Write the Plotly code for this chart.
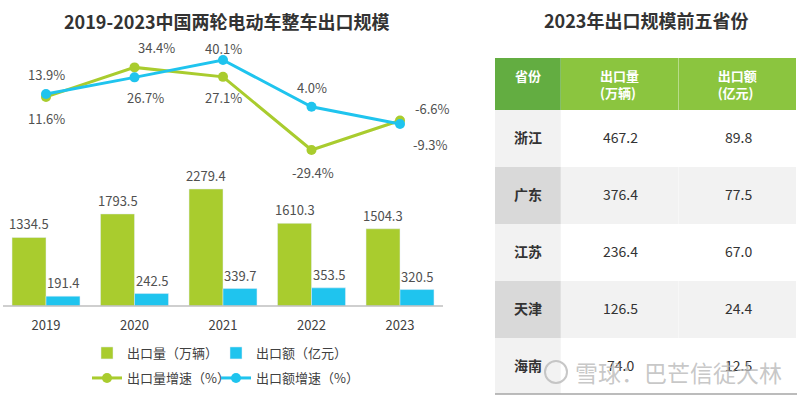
import plotly.graph_objects as go

# ---------------- data ----------------
years = ["2019", "2020", "2021", "2022", "2023"]
export_volume = [1334.5, 1793.5, 2279.4, 1610.3, 1504.3]   # 万辆
export_value = [191.4, 242.5, 339.7, 353.5, 320.5]          # 亿元
volume_growth = [11.6, 34.4, 27.1, -29.4, -6.6]             # %
value_growth = [13.9, 26.7, 40.1, 4.0, -9.3]                # %

provinces = ["浙江", "广东", "江苏", "天津", "海南"]
prov_volume = ["467.2", "376.4", "236.4", "126.5", "74.0"]
prov_value = ["89.8", "77.5", "67.0", "24.4", "12.5"]
table_headers = ["省份", "出口量<br>(万辆)", "出口额<br>(亿元)"]

title_left = "2019-2023中国两轮电动车整车出口规模"
title_right = "2023年出口规模前五省份"
names = ["出口量（万辆）", "出口额（亿元）", "出口量增速（%）", "出口额增速（%）"]
watermark = "雪球：巴芒信徒大林"

# ---------------- style ----------------
GREEN = "#A9CC2E"
BLUE = "#1FC4EE"
FONT = "Noto Sans CJK SC"
LABEL_COLOR = "#505050"
W, H = 800, 398

# label offsets (px) for growth labels: (dx, dy)
vol_off = [(0, -22), (22, 20), (0, -21), (1, -23), (32, 12)]
val_off = [(0, 19), (11, -20), (0, 12), (0, 19), (30, -21)]

fig = go.Figure()

fig.add_trace(go.Bar(x=years, y=export_volume, name=names[0], marker_color=GREEN,
                     xaxis="x", yaxis="y", legend="legend", showlegend=True))
fig.add_trace(go.Bar(x=years, y=export_value, name=names[1], marker_color=BLUE,
                     xaxis="x", yaxis="y", legend="legend2", showlegend=True))
fig.add_trace(go.Scatter(x=years, y=volume_growth, name=names[2], mode="lines+markers",
                         line=dict(color=GREEN, width=3), marker=dict(size=10, color=GREEN),
                         xaxis="x", yaxis="y2", legend="legend3", showlegend=True))
fig.add_trace(go.Scatter(x=years, y=value_growth, name=names[3], mode="lines+markers",
                         line=dict(color=BLUE, width=3), marker=dict(size=10, color=BLUE),
                         xaxis="x", yaxis="y2", legend="legend4", showlegend=True))

lab_font = dict(size=13, color=LABEL_COLOR, family=FONT)
annotations = []
for i, yr in enumerate(years):
    annotations.append(dict(x=i, y=export_volume[i], xref="x", yref="y",
                            text=f"{export_volume[i]:.1f}", showarrow=False,
                            xshift=-17, yshift=2, xanchor="center", yanchor="bottom",
                            font=lab_font))
    annotations.append(dict(x=i, y=export_value[i], xref="x", yref="y",
                            text=f"{export_value[i]:.1f}", showarrow=False,
                            xshift=17, yshift=2, xanchor="center", yanchor="bottom",
                            font=lab_font))
    annotations.append(dict(x=i, y=volume_growth[i], xref="x", yref="y2",
                            text=f"{volume_growth[i]:.1f}%", showarrow=False,
                            xshift=vol_off[i][0], yshift=vol_off[i][1],
                            xanchor="center", yanchor="middle", font=lab_font))
    annotations.append(dict(x=i, y=value_growth[i], xref="x", yref="y2",
                            text=f"{value_growth[i]:.1f}%", showarrow=False,
                            xshift=val_off[i][0], yshift=val_off[i][1],
                            xanchor="center", yanchor="middle", font=lab_font))

annotations.append(dict(x=227 / W, y=1 - 21 / H, xref="paper", yref="paper",
                        text=f"<b>{title_left}</b>", showarrow=False,
                        xanchor="center", yanchor="middle",
                        font=dict(size=18, color="#333333", family=FONT)))
annotations.append(dict(x=646 / W, y=1 - 20 / H, xref="paper", yref="paper",
                        text=f"<b>{title_right}</b>", showarrow=False,
                        xanchor="center", yanchor="middle",
                        font=dict(size=18, color="#333333", family=FONT)))

# ---------------- table ----------------
tbl_left, tbl_right, tbl_top, tbl_bottom = 495, 797, 58, 394
header_h, row_h = 50, 57
col_w = [66, 118, 118]
n = len(provinces)
first_col_fill = ["#F2F2F2" if i % 2 == 0 else "#D9D9D9" for i in range(n)]
other_fill = ["#FFFFFF" if i % 2 == 0 else "#F2F2F2" for i in range(n)]
fig.add_trace(go.Table(
    domain=dict(x=[tbl_left / W, tbl_right / W], y=[(H - tbl_bottom) / H, (H - tbl_top) / H]),
    columnwidth=col_w,
    header=dict(values=[f"<b>{h}</b>" for h in table_headers],
                fill_color=["#63AD41", "#8BC53F", "#8BC53F"],
                line=dict(color="rgba(0,0,0,0)", width=0),
                align="center", height=header_h,
                font=dict(size=13, color="white", family=FONT)),
    cells=dict(values=[[""] * n, [""] * n, [""] * n],
               fill_color=[first_col_fill, other_fill, other_fill],
               line=dict(color="rgba(0,0,0,0)", width=0),
               align="center", height=row_h,
               font=dict(size=14, color="#333333", family=FONT)),
))

# cell texts, vertically centred in each row
col_centers = []
acc = tbl_left
for w in col_w:
    col_centers.append(acc + w / 2)
    acc += w
for r in range(n):
    yc = tbl_top + header_h + row_h * r + row_h / 2
    for c, (txt, bold) in enumerate([(provinces[r], True), (prov_volume[r], False), (prov_value[r], False)]):
        annotations.append(dict(x=col_centers[c] / W, y=1 - yc / H, xref="paper", yref="paper",
                                text=f"<b>{txt}</b>" if bold else txt, showarrow=False,
                                xanchor="center", yanchor="middle",
                                font=dict(size=14, color="#333333", family=FONT)))

# watermark (drawn over the table)
annotations.append(dict(x=573 / W, y=1 - 372 / H, xref="paper", yref="paper",
                        text=watermark, showarrow=False, xanchor="left", yanchor="middle",
                        font=dict(size=23, color="rgba(185,185,185,0.8)", family=FONT)))

shapes = [
    dict(type="line", xref="paper", yref="paper", x0=3 / W, x1=443 / W,
         y0=(H - 306) / H, y1=(H - 306) / H, line=dict(color="#BFBFBF", width=1.5)),
    dict(type="line", xref="paper", yref="paper", x0=tbl_left / W, x1=tbl_right / W,
         y0=(H - tbl_bottom) / H, y1=(H - tbl_bottom) / H, line=dict(color="#A6A6A6", width=1.5)),
    dict(type="circle", xref="paper", yref="paper", x0=545 / W, x1=567 / W,
         y0=(H - 383) / H, y1=(H - 361) / H,
         line=dict(color="rgba(185,185,185,0.8)", width=2)),
]

leg_common = dict(orientation="h", xanchor="left", yanchor="middle", visible=True,
                  font=dict(size=13, color="#404040", family=FONT),
                  bgcolor="rgba(0,0,0,0)", itemclick=False, itemdoubleclick=False)

fig.update_layout(
    width=W, height=H,
    margin=dict(l=0, r=0, t=0, b=0),
    showlegend=True,
    paper_bgcolor="white", plot_bgcolor="rgba(0,0,0,0)",
    barmode="group", bargap=0.232, bargroupgap=0,
    font=dict(family=FONT, color="#404040"),
    xaxis=dict(type="category", domain=[1.75 / W, 444.25 / W], range=[-0.5, 4.5],
               anchor="y", showgrid=False, showline=False, zeroline=False, ticks="",
               ticklabelstandoff=10,
               tickfont=dict(size=13, color="#404040", family=FONT)),
    yaxis=dict(domain=[(H - 306) / H, (H - 160) / H], range=[0, 2844],
               visible=False, showgrid=False, zeroline=False),
    yaxis2=dict(domain=[(H - 170) / H, (H - 40) / H], range=[-44.86, 55.56],
                anchor="x", visible=False, showgrid=False, zeroline=False),
    legend=dict(x=87 / W, y=1 - 353 / H, **leg_common),
    legend2=dict(x=216 / W, y=1 - 353 / H, **leg_common),
    legend3=dict(x=87 / W, y=1 - 378 / H, **leg_common),
    legend4=dict(x=216 / W, y=1 - 378 / H, **leg_common),
    annotations=annotations,
    shapes=shapes,
)

fig.write_html("out.html", config={"displayModeBar": False},
               post_script="document.body.style.margin='0px';")
